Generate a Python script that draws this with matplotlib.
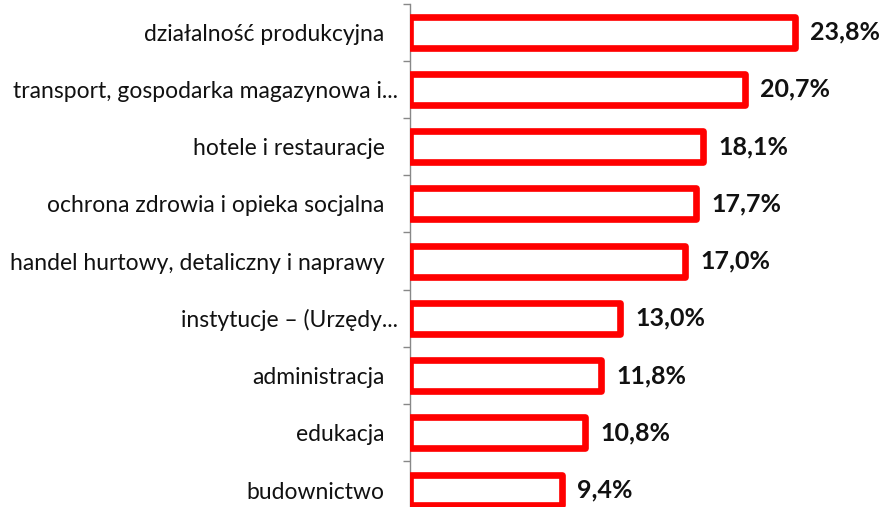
import numpy as np
import matplotlib.pyplot as plt
import matplotlib.transforms as mtransforms
from matplotlib.ticker import FixedLocator

kategorie = [
    "działalność produkcyjna",
    "transport, gospodarka magazynowa i...",
    "hotele i restauracje",
    "ochrona zdrowia i opieka socjalna",
    "handel hurtowy, detaliczny i naprawy",
    "instytucje – (Urzędy...",
    "administracja",
    "edukacja",
    "budownictwo",
]
wartosci = [23.8, 20.7, 18.1, 17.7, 17.0, 13.0, 11.8, 10.8, 9.4]
etykiety = ["23,8%", "20,7%", "18,1%", "17,7%", "17,0%", "13,0%", "11,8%", "10,8%", "9,4%"]

plt.rcParams['font.family'] = ['Lato', 'DejaVu Sans']

fig = plt.figure(figsize=(8.8, 5.07), dpi=100)
ax = fig.add_axes([410 / 880, -0.023, 469 / 880, 1.016])

y = np.arange(len(kategorie))
ax.barh(y, wartosci, height=0.54, color="white", edgecolor="#ff0000",
        linewidth=4.8, joinstyle="round", zorder=3)

for yi, v, t in zip(y, wartosci, etykiety):
    ax.annotate(t, (v, yi), xytext=(11, 0), textcoords="offset points",
                va="center", ha="left", fontsize=18, fontweight="bold", color="#111111")

ax.set_xlim(0, 29)
ax.set_ylim(8.5, -0.5)
ax.set_yticks(y)
ax.set_yticklabels(kategorie, fontsize=16.5, color="#111111")
ax.tick_params(axis="y", which="major", length=0, pad=9)
ax.yaxis.set_minor_locator(FixedLocator(np.arange(-0.5, 9, 1)))
ax.tick_params(axis="y", which="minor", length=5, width=1, color="#888888")
ax.set_xticks([])

# pełne etykiety (bez "...") kończą się trochę dalej od osi
przesun = mtransforms.ScaledTranslation(-13 / 100, 0, fig.dpi_scale_trans)
for lab in ax.get_yticklabels():
    if not lab.get_text().endswith("..."):
        lab.set_transform(lab.get_transform() + przesun)

for s in ["top", "right", "bottom"]:
    ax.spines[s].set_visible(False)
ax.spines["left"].set_color("#888888")
ax.spines["left"].set_linewidth(1)
ax.spines["left"].set_zorder(1)

fig.savefig("out.png", dpi=100)
